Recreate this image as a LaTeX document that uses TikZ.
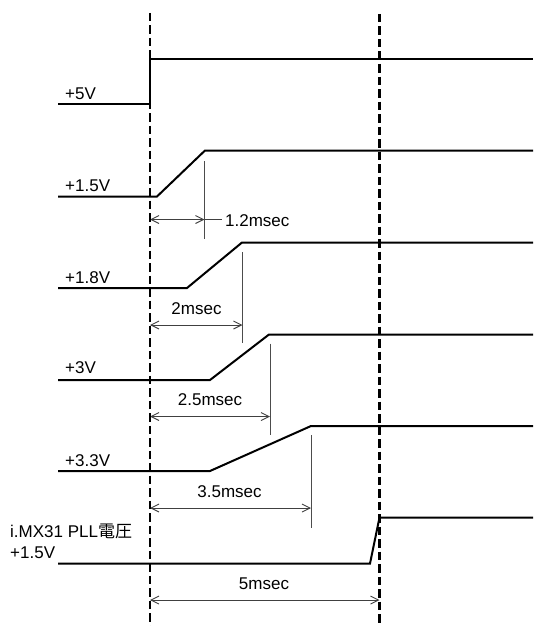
\documentclass[tikz,border=0pt]{standalone}
\usepackage{fontspec}
\setmainfont{Liberation Sans}
\newfontfamily\cjkjp{Noto Sans CJK JP}
\usetikzlibrary{arrows.meta}
\tikzset{
  sig/.style={line width=2pt, line join=miter},
  guide/.style={line width=2.4pt, dash pattern=on 8.5pt off 4pt},
  tickln/.style={line width=0.9pt, black!70},
  dim/.style={line width=0.9pt, black!75, {Straight Barb[length=8pt,width=8pt]}-{Straight Barb[length=8pt,width=8pt]}},
  lead/.style={line width=0.9pt, black!75},
  lbl/.style={font=\fontsize{17}{20}\selectfont, inner sep=0pt, anchor=base west},
  dlbl/.style={font=\fontsize{17}{20}\selectfont, inner sep=0pt, anchor=base}
}
\begin{document}
\begin{tikzpicture}[x=1pt,y=-1pt]
\useasboundingbox (0,0) rectangle (533,626);
% guide lines
\coordinate (g1t) at (150,13); \coordinate (g1b) at (150,626);
\coordinate (g2t) at (379.5,14); \coordinate (g2b) at (379.5,626);
% +5V
\coordinate (a0) at (58,104); \coordinate (a1) at (150,104); \coordinate (a2) at (150,59); \coordinate (a3) at (533,59);
\draw[sig] (a0) -- (a1) -- (a2) -- (a3);
\node[lbl] (l5) at (65,99) {+5V};
% +1.5V
\coordinate (b0) at (58,196.5); \coordinate (b1) at (157,196.5); \coordinate (b2) at (205,150.5); \coordinate (b3) at (533,150.5);
\draw[sig] (b0) -- (b1) -- (b2) -- (b3);
\node[lbl] (l15) at (65,191.5) {+1.5V};
\coordinate (bt1) at (204.5,161); \coordinate (bt2) at (204.5,239);
\draw[tickln] (bt1) -- (bt2);
\coordinate (bd0) at (150,219.5); \coordinate (bd1) at (204.5,219.5); \coordinate (bd2) at (222,219.5);
\draw[dim] (bd0) -- (bd1);
\draw[lead] (bd1) -- (bd2);
\node[lbl] (d12) at (225,226.5) {1.2msec};
% +1.8V
\coordinate (c0) at (58,288); \coordinate (c1) at (187,288); \coordinate (c2) at (242,242.5); \coordinate (c3) at (533,242.5);
\draw[sig] (c0) -- (c1) -- (c2) -- (c3);
\node[lbl] (l18) at (65,283.5) {+1.8V};
\coordinate (ct1) at (242.5,252); \coordinate (ct2) at (242.5,343);
\draw[tickln] (ct1) -- (ct2);
\coordinate (cd0) at (150,325); \coordinate (cd1) at (242.5,325);
\draw[dim] (cd0) -- (cd1);
\node[dlbl] (d2) at (196.5,314) {2msec};
% +3V
\coordinate (e0) at (58,380); \coordinate (e1) at (210,380); \coordinate (e2) at (269,334.5); \coordinate (e3) at (533,334.5);
\draw[sig] (e0) -- (e1) -- (e2) -- (e3);
\node[lbl] (l3) at (65,373) {+3V};
\coordinate (et1) at (270,343.5); \coordinate (et2) at (270,435);
\draw[tickln] (et1) -- (et2);
\coordinate (ed0) at (150,416.5); \coordinate (ed1) at (270,416.5);
\draw[dim] (ed0) -- (ed1);
\node[dlbl] (d25) at (210,405) {2.5msec};
% +3.3V
\coordinate (f0) at (58,471); \coordinate (f1) at (210,471); \coordinate (f2) at (311,426); \coordinate (f3) at (533,426);
\draw[sig] (f0) -- (f1) -- (f2) -- (f3);
\node[lbl] (l33) at (65,466) {+3.3V};
\coordinate (ft1) at (311,435); \coordinate (ft2) at (311,527.5);
\draw[tickln] (ft1) -- (ft2);
\coordinate (fd0) at (150,508); \coordinate (fd1) at (311,508);
\draw[dim] (fd0) -- (fd1);
\node[dlbl] (d35) at (229.5,497) {3.5msec};
% PLL
\coordinate (h0) at (58,563.5); \coordinate (h1) at (370,563.5); \coordinate (h2) at (379.5,517.5); \coordinate (h3) at (533,517.5);
\draw[sig] (h0) -- (h1) -- (h2) -- (h3);
\node[lbl] (lp1) at (10,537) {i.MX31 PLL{\cjkjp 電圧}};
\node[lbl] (lp2) at (10,558) {+1.5V};
\coordinate (hd0) at (150,600); \coordinate (hd1) at (379.5,600);
\draw[dim] (hd0) -- (hd1);
\node[dlbl] (d5) at (264,589.5) {5msec};
% guides on top
\draw[guide] (g1t) -- (g1b);
\draw[guide] (g2t) -- (g2b);
\end{tikzpicture}
\end{document}
